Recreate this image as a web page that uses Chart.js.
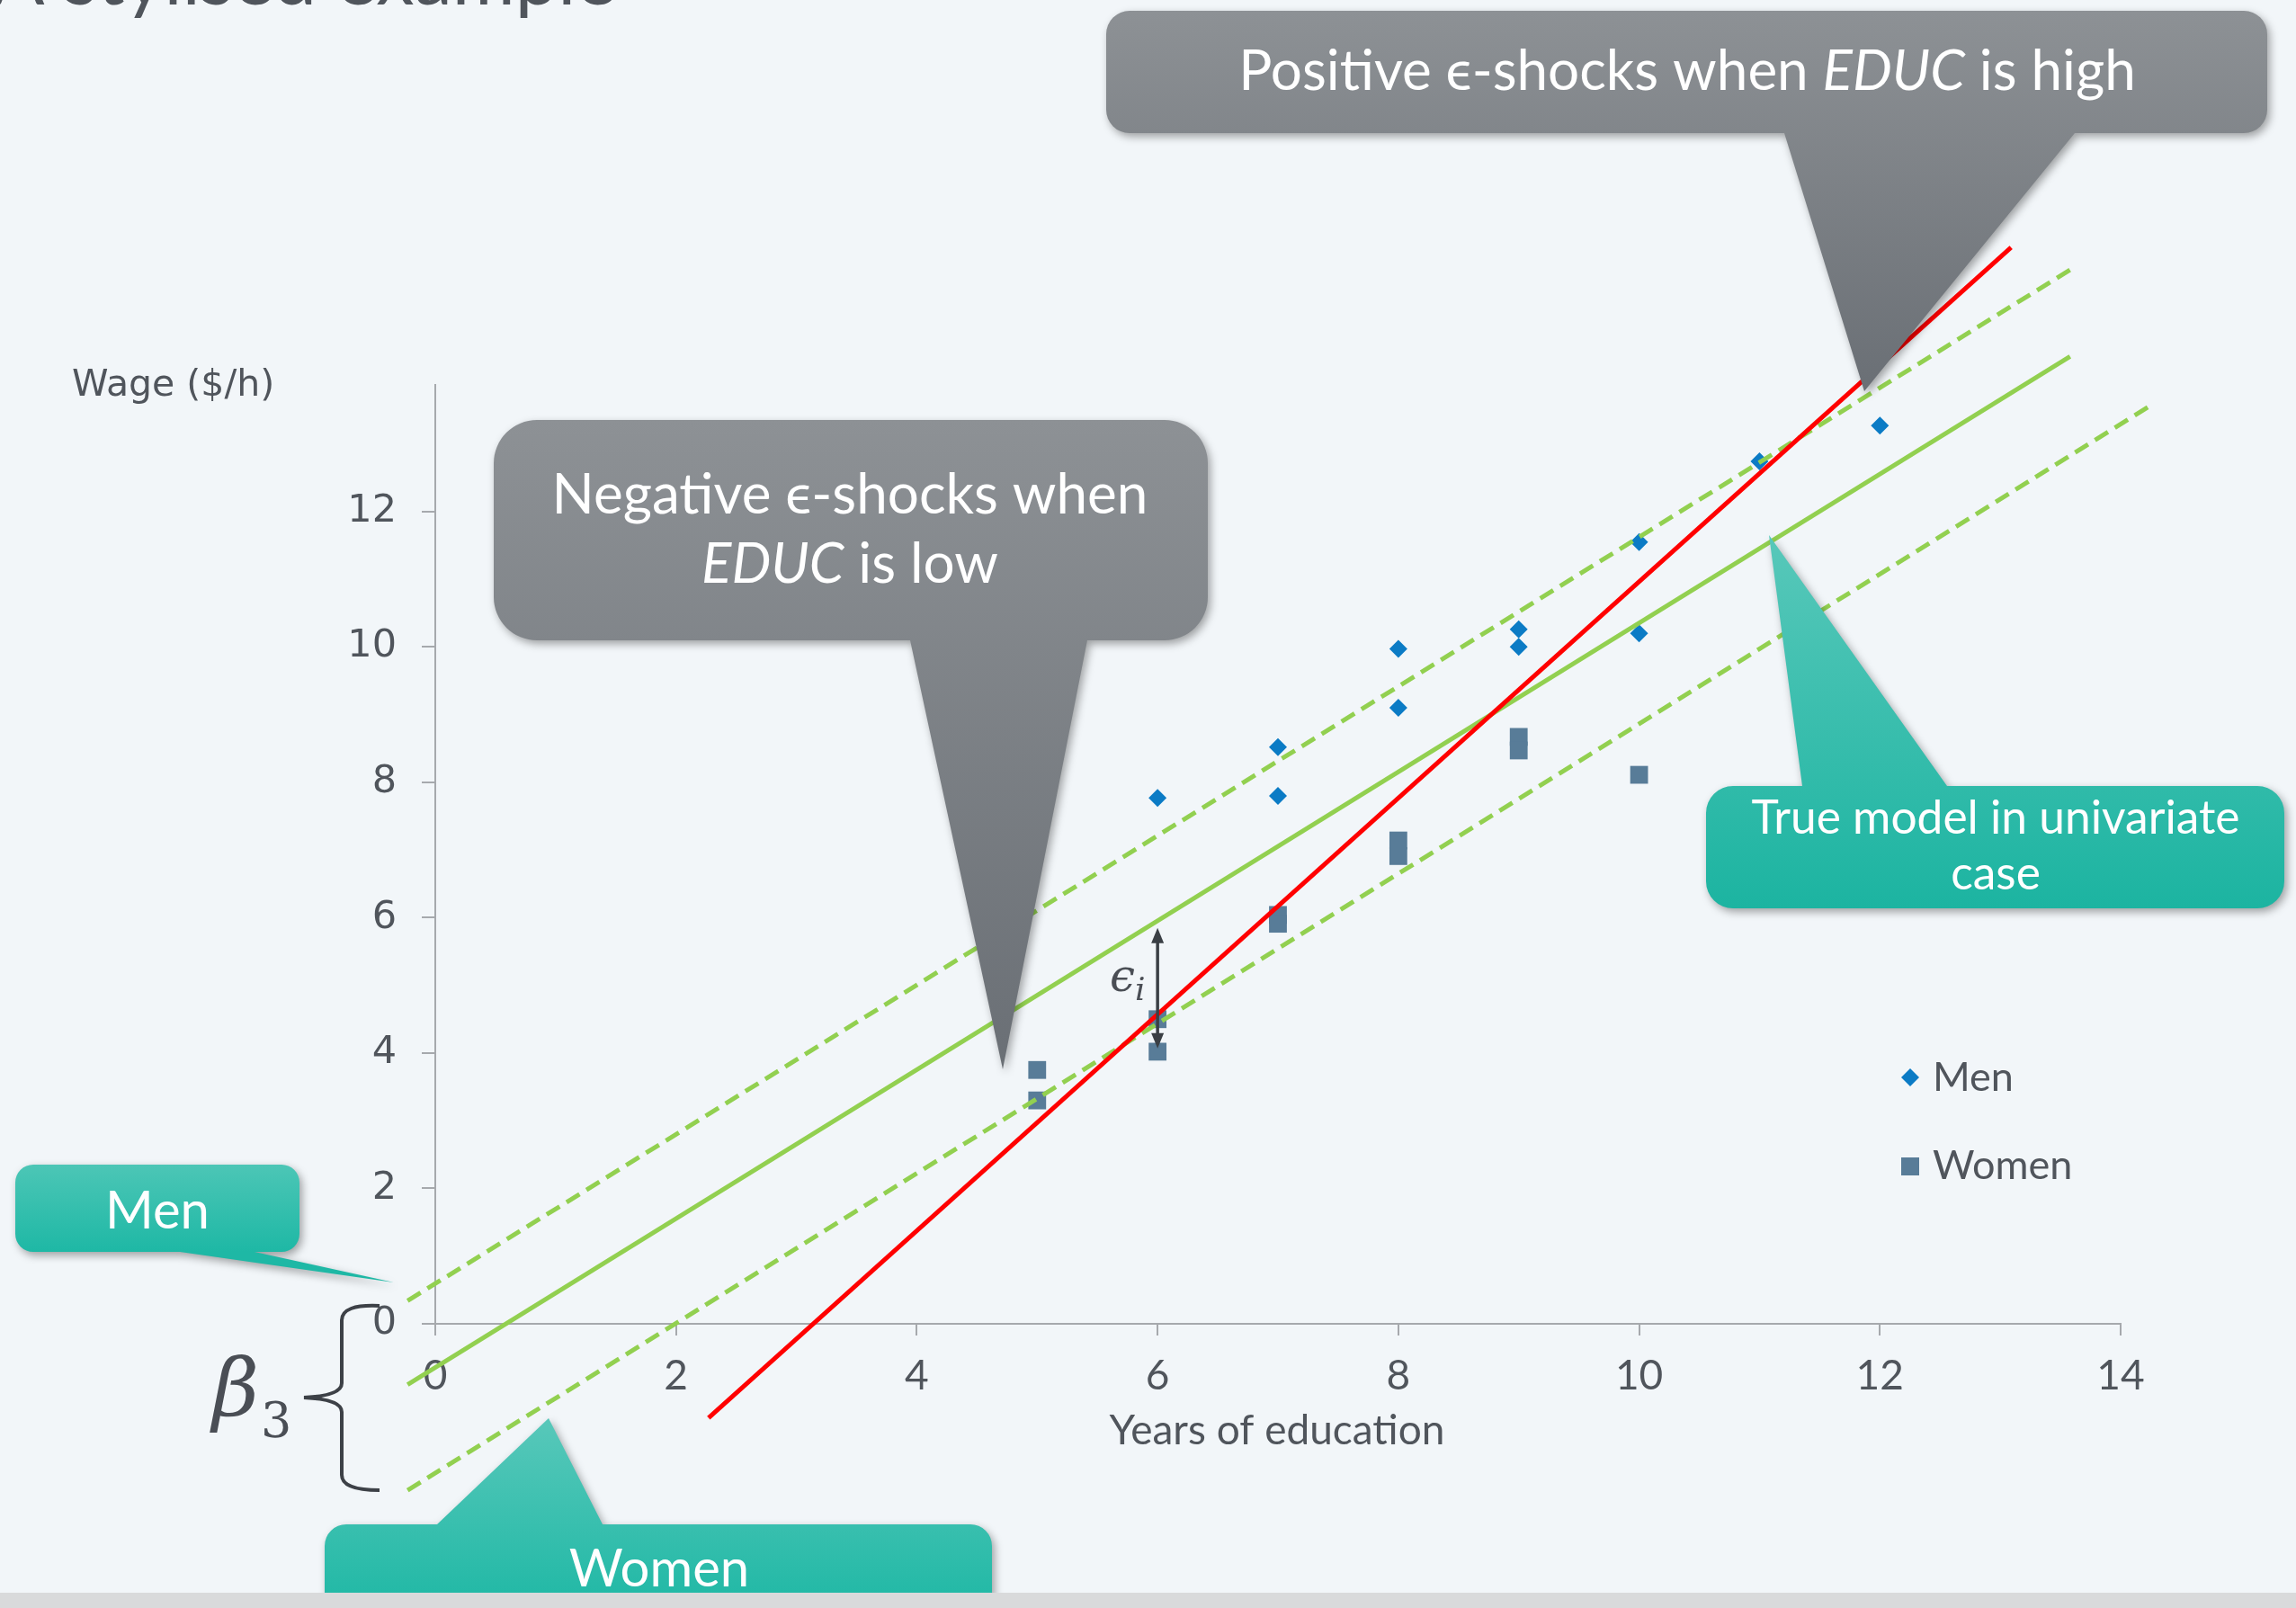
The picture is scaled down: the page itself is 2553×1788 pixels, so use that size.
<!DOCTYPE html>
<html>
<head>
<meta charset="utf-8">
<title>A stylised example</title>
<script src="https://cdn.jsdelivr.net/npm/chart.js@4.4.1/dist/chart.umd.min.js"></script>
<style>
  html, body { margin: 0; padding: 0; background: #f2f6f9; overflow: hidden; }
  #chart-wrap { position: relative; width: 2553px; height: 1788px; }
</style>
</head>
<body>
<div id="chart-wrap"><canvas id="wage-chart" width="2553" height="1788"></canvas></div>
<script>
const menEducation = [6, 7, 7, 8, 8, 9, 9, 10, 10, 11, 12];
const menWage = [7.77, 8.52, 7.8, 9.97, 9.1, 10.26, 10.0, 11.55, 10.2, 12.74, 13.27];
const womenEducation = [5, 5, 6, 6, 7, 7, 8, 8, 9, 9, 10];
const womenWage = [3.75, 3.3, 4.5, 4.02, 6.04, 5.91, 7.14, 6.91, 8.67, 8.47, 8.11];

// Line end points (education, wage)
const menLineX = [-0.23, 13.58];
const menLineY = [0.34, 15.57];
const trueLineX = [-0.23, 13.58];
const trueLineY = [-0.9, 14.29];
const womenLineX = [-0.23, 14.28];
const womenLineY = [-2.46, 13.6];
const pooledLineX = [2.27, 13.09];
const pooledLineY = [-1.39, 15.9];

// Residual arrow (epsilon_i) at EDUC = 6
const residualX = 6;
const residualTop = 5.85;
const residualBottom = 4.07;

// Axis ticks
const xTicks = [0, 2, 4, 6, 8, 10, 12, 14];
const yTicks = [0, 2, 4, 6, 8, 10, 12];

const axisGray = '#a6a9ad';
const textGray = '#50555c';

function toPoints(xs, ys) {
    return xs.map((x, i) => ({ x: x, y: ys[i] }));
}

// Rounded box with a pointer, as one path so the shadow stays clean
function calloutPath(ctx, b, tail) {
    const x = b.x, y = b.y, r = b.r;
    const x2 = b.x + b.w, y2 = b.y + b.h;
    ctx.beginPath();
    ctx.moveTo(x + r, y);
    if (tail.side === 'top') {
        ctx.lineTo(tail.from, y);
        ctx.lineTo(tail.tipX, tail.tipY);
        ctx.lineTo(tail.to, y);
    }
    ctx.lineTo(x2 - r, y);
    ctx.arcTo(x2, y, x2, y + r, r);
    ctx.lineTo(x2, y2 - r);
    ctx.arcTo(x2, y2, x2 - r, y2, r);
    if (tail.side === 'bottom') {
        ctx.lineTo(tail.to, y2);
        ctx.lineTo(tail.tipX, tail.tipY);
        ctx.lineTo(tail.from, y2);
    }
    ctx.lineTo(x + r, y2);
    ctx.arcTo(x, y2, x, y2 - r, r);
    ctx.lineTo(x, y + r);
    ctx.arcTo(x, y, x + r, y, r);
    ctx.closePath();
}

// Draw a line made of [text, italic] runs, centred on cx
function drawRuns(ctx, runs, cx, baseline, size) {
    const fonts = runs.map(run => (run[1] ? 'italic ' : '') + size + 'px Lato');
    let total = 0;
    const widths = runs.map((run, i) => {
        ctx.font = fonts[i];
        const w = ctx.measureText(run[0]).width;
        total += w;
        return w;
    });
    let x = cx - total / 2;
    ctx.textAlign = 'left';
    ctx.textBaseline = 'alphabetic';
    runs.forEach((run, i) => {
        ctx.font = fonts[i];
        ctx.fillText(run[0], x, baseline);
        x += widths[i];
    });
}

const callouts = [
    {
        box: { x: 1230, y: 12, w: 1291, h: 136, r: 26 },
        tail: { side: 'bottom', from: 1984, to: 2307, tipX: 2073, tipY: 435 },
        colors: ['#8d9195', '#6a6f75'], grad: [12, 435],
        size: 62,
        lines: [[
            ['Positive ', false], ['\u03F5', false], ['-shocks when ', false], ['EDUC', true], [' is high', false]
        ]],
        cx: 1876, baselines: [100]
    },
    {
        box: { x: 549, y: 467, w: 794, h: 245, r: 48 },
        tail: { side: 'bottom', from: 1012, to: 1209, tipX: 1115, tipY: 1189 },
        colors: ['#8d9195', '#6a6f75'], grad: [467, 1189],
        size: 62,
        lines: [
            [['Negative ', false], ['\u03F5', false], ['-shocks when', false]],
            [['EDUC', true], [' is low', false]]
        ],
        cx: 945, baselines: [571, 648]
    },
    {
        box: { x: 1897, y: 874, w: 643, h: 136, r: 30 },
        tail: { side: 'top', from: 2004, to: 2165, tipX: 1967, tipY: 595 },
        colors: ['#58c8ba', '#1cb4a1'], grad: [595, 1010],
        size: 51.5,
        lines: [[['True model in univariate', false]], [['case', false]]],
        cx: 2219, baselines: [927, 989]
    },
    {
        box: { x: 17, y: 1295, w: 316, h: 97, r: 20 },
        tail: { side: 'bottom', from: 200, to: 283, tipX: 438, tipY: 1426 },
        colors: ['#4cc6b6', '#1eb8a5'], grad: [1295, 1392],
        size: 58,
        lines: [[['Men', false]]],
        cx: 175, baselines: [1366]
    },
    {
        box: { x: 361, y: 1695, w: 742, h: 140, r: 24 },
        tail: { side: 'top', from: 486, to: 670, tipX: 610, tipY: 1577 },
        colors: ['#58c8ba', '#1fb8a5'], grad: [1577, 1790],
        size: 58,
        lines: [[['Women', false]]],
        cx: 733, baselines: [1764]
    }
];

const slidePlugin = {
    id: 'slide',
    afterDatasetsDraw(chart) {
        const ctx = chart.ctx;
        const xs = chart.scales.x;
        const ys = chart.scales.y;

        // residual arrow
        const ax = xs.getPixelForValue(residualX);
        const top = ys.getPixelForValue(residualTop);
        const bot = ys.getPixelForValue(residualBottom);
        ctx.save();
        ctx.strokeStyle = '#3a3f45';
        ctx.fillStyle = '#3a3f45';
        ctx.lineWidth = 3.5;
        ctx.beginPath();
        ctx.moveTo(ax, top + 14);
        ctx.lineTo(ax, bot - 14);
        ctx.stroke();
        ctx.beginPath();
        ctx.moveTo(ax, top);
        ctx.lineTo(ax - 7, top + 17);
        ctx.lineTo(ax + 7, top + 17);
        ctx.closePath();
        ctx.fill();
        ctx.beginPath();
        ctx.moveTo(ax, bot);
        ctx.lineTo(ax - 7, bot - 17);
        ctx.lineTo(ax + 7, bot - 17);
        ctx.closePath();
        ctx.fill();

        ctx.fillStyle = '#4a4e55';
        ctx.textAlign = 'left';
        ctx.textBaseline = 'alphabetic';
        ctx.font = 'italic 50px "DejaVu Serif"';
        ctx.fillText('\u03F5', 1234, 1102);
        ctx.font = 'italic 36px "DejaVu Serif"';
        ctx.fillText('i', 1262, 1112);
        ctx.restore();
    },
    afterDraw(chart) {
        const ctx = chart.ctx;
        ctx.save();

        // slide title, mostly cut off at the top
        ctx.fillStyle = '#50555c';
        ctx.font = '85px Lato';
        ctx.textAlign = 'left';
        ctx.textBaseline = 'alphabetic';
        ctx.fillText('A stylised example', -8, 5);

        // axis titles
        ctx.font = '41px "DejaVu Sans"';
        ctx.fillText('Wage ($/h)', 80, 440);
        ctx.font = '46px Lato';
        ctx.textAlign = 'center';
        ctx.fillText('Years of education', 1420, 1606);

        // legend
        ctx.fillStyle = '#0b7bc5';
        ctx.beginPath();
        ctx.moveTo(2124, 1188);
        ctx.lineTo(2134, 1198);
        ctx.lineTo(2124, 1208);
        ctx.lineTo(2114, 1198);
        ctx.closePath();
        ctx.fill();
        ctx.fillStyle = '#587c98';
        ctx.fillRect(2114, 1287, 20, 20);
        ctx.fillStyle = textGray;
        ctx.font = '45px Lato';
        ctx.textAlign = 'left';
        ctx.fillText('Men', 2149, 1213);
        ctx.fillText('Women', 2149, 1311);

        // beta_3 with brace
        ctx.fillStyle = '#4a4e55';
        ctx.font = 'italic 90px "DejaVu Serif"';
        ctx.fillText('\u03B2', 236, 1574);
        ctx.font = '54px "DejaVu Serif"';
        ctx.fillText('3', 290, 1598);
        ctx.strokeStyle = '#3d4147';
        ctx.lineWidth = 4;
        ctx.beginPath();
        ctx.moveTo(422, 1452);
        ctx.quadraticCurveTo(380, 1450, 380, 1468);
        ctx.lineTo(380, 1538);
        ctx.quadraticCurveTo(380, 1552, 338, 1554);
        ctx.quadraticCurveTo(380, 1556, 380, 1570);
        ctx.lineTo(380, 1640);
        ctx.quadraticCurveTo(380, 1657, 422, 1657);
        ctx.stroke();

        // callouts
        callouts.forEach(c => {
            const g = ctx.createLinearGradient(0, c.grad[0], 0, c.grad[1]);
            g.addColorStop(0, c.colors[0]);
            g.addColorStop(1, c.colors[1]);
            ctx.save();
            ctx.shadowColor = 'rgba(0, 0, 0, 0.35)';
            ctx.shadowBlur = 10;
            ctx.shadowOffsetX = 3;
            ctx.shadowOffsetY = 4;
            calloutPath(ctx, c.box, c.tail);
            ctx.fillStyle = g;
            ctx.fill();
            ctx.restore();
            ctx.fillStyle = '#ffffff';
            c.lines.forEach((runs, i) => drawRuns(ctx, runs, c.cx, c.baselines[i], c.size));
        });

        // grey strip at the slide bottom
        ctx.fillStyle = '#d9dadb';
        ctx.fillRect(0, 1771, 2553, 17);
        ctx.restore();
    }
};

const lineBase = {
    type: 'scatter',
    showLine: true,
    pointRadius: 0,
    fill: false,
    clip: false,
    tension: 0
};

new Chart(document.getElementById('wage-chart'), {
    type: 'scatter',
    data: {
        datasets: [
            Object.assign({}, lineBase, {
                label: 'Pooled fit',
                data: toPoints(pooledLineX, pooledLineY),
                borderColor: '#ff0000',
                borderWidth: 5,
                order: 0
            }),
            Object.assign({}, lineBase, {
                label: 'True model',
                data: toPoints(trueLineX, trueLineY),
                borderColor: '#92d050',
                borderWidth: 5,
                order: 1
            }),
            Object.assign({}, lineBase, {
                label: 'Men line',
                data: toPoints(menLineX, menLineY),
                borderColor: '#92d050',
                borderWidth: 5,
                borderDash: [17, 9],
                order: 1
            }),
            Object.assign({}, lineBase, {
                label: 'Women line',
                data: toPoints(womenLineX, womenLineY),
                borderColor: '#92d050',
                borderWidth: 5,
                borderDash: [17, 9],
                order: 1
            }),
            {
                label: 'Men',
                data: toPoints(menEducation, menWage),
                pointStyle: 'rectRot',
                pointRadius: 10,
                pointBorderWidth: 0,
                backgroundColor: '#0b7bc5',
                borderColor: '#0b7bc5',
                order: 3
            },
            {
                label: 'Women',
                data: toPoints(womenEducation, womenWage),
                pointStyle: 'rect',
                pointRadius: 14,
                pointBorderWidth: 0,
                backgroundColor: '#587c98',
                borderColor: '#587c98',
                order: 4
            }
        ]
    },
    options: {
        responsive: false,
        devicePixelRatio: 1,
        animation: false,
        events: [],
        layout: { padding: { left: 334, right: 195, top: 428, bottom: 166 } },
        plugins: {
            legend: { display: false },
            tooltip: { enabled: false }
        },
        scales: {
            x: {
                type: 'linear',
                min: 0,
                max: 14,
                afterBuildTicks: s => { s.ticks = xTicks.map(v => ({ value: v })); },
                afterFit: s => { s.height = 150; },
                grid: { drawOnChartArea: false, drawTicks: true, tickLength: 13, color: axisGray, lineWidth: 2 },
                border: { display: true, color: axisGray, width: 2 },
                ticks: { color: textGray, font: { family: 'Lato', size: 46 }, padding: 18, maxRotation: 0, autoSkip: false }
            },
            y: {
                type: 'linear',
                min: 0,
                max: 13.87,
                afterBuildTicks: s => { s.ticks = yTicks.map(v => ({ value: v })); },
                afterFit: s => { s.width = 150; },
                grid: { drawOnChartArea: false, drawTicks: true, tickLength: 15, color: axisGray, lineWidth: 2 },
                border: { display: true, color: axisGray, width: 2 },
                ticks: { color: textGray, font: { family: 'DejaVu Sans', size: 43 }, padding: 28, autoSkip: false }
            }
        }
    },
    plugins: [slidePlugin]
});
</script>
</body>
</html>
